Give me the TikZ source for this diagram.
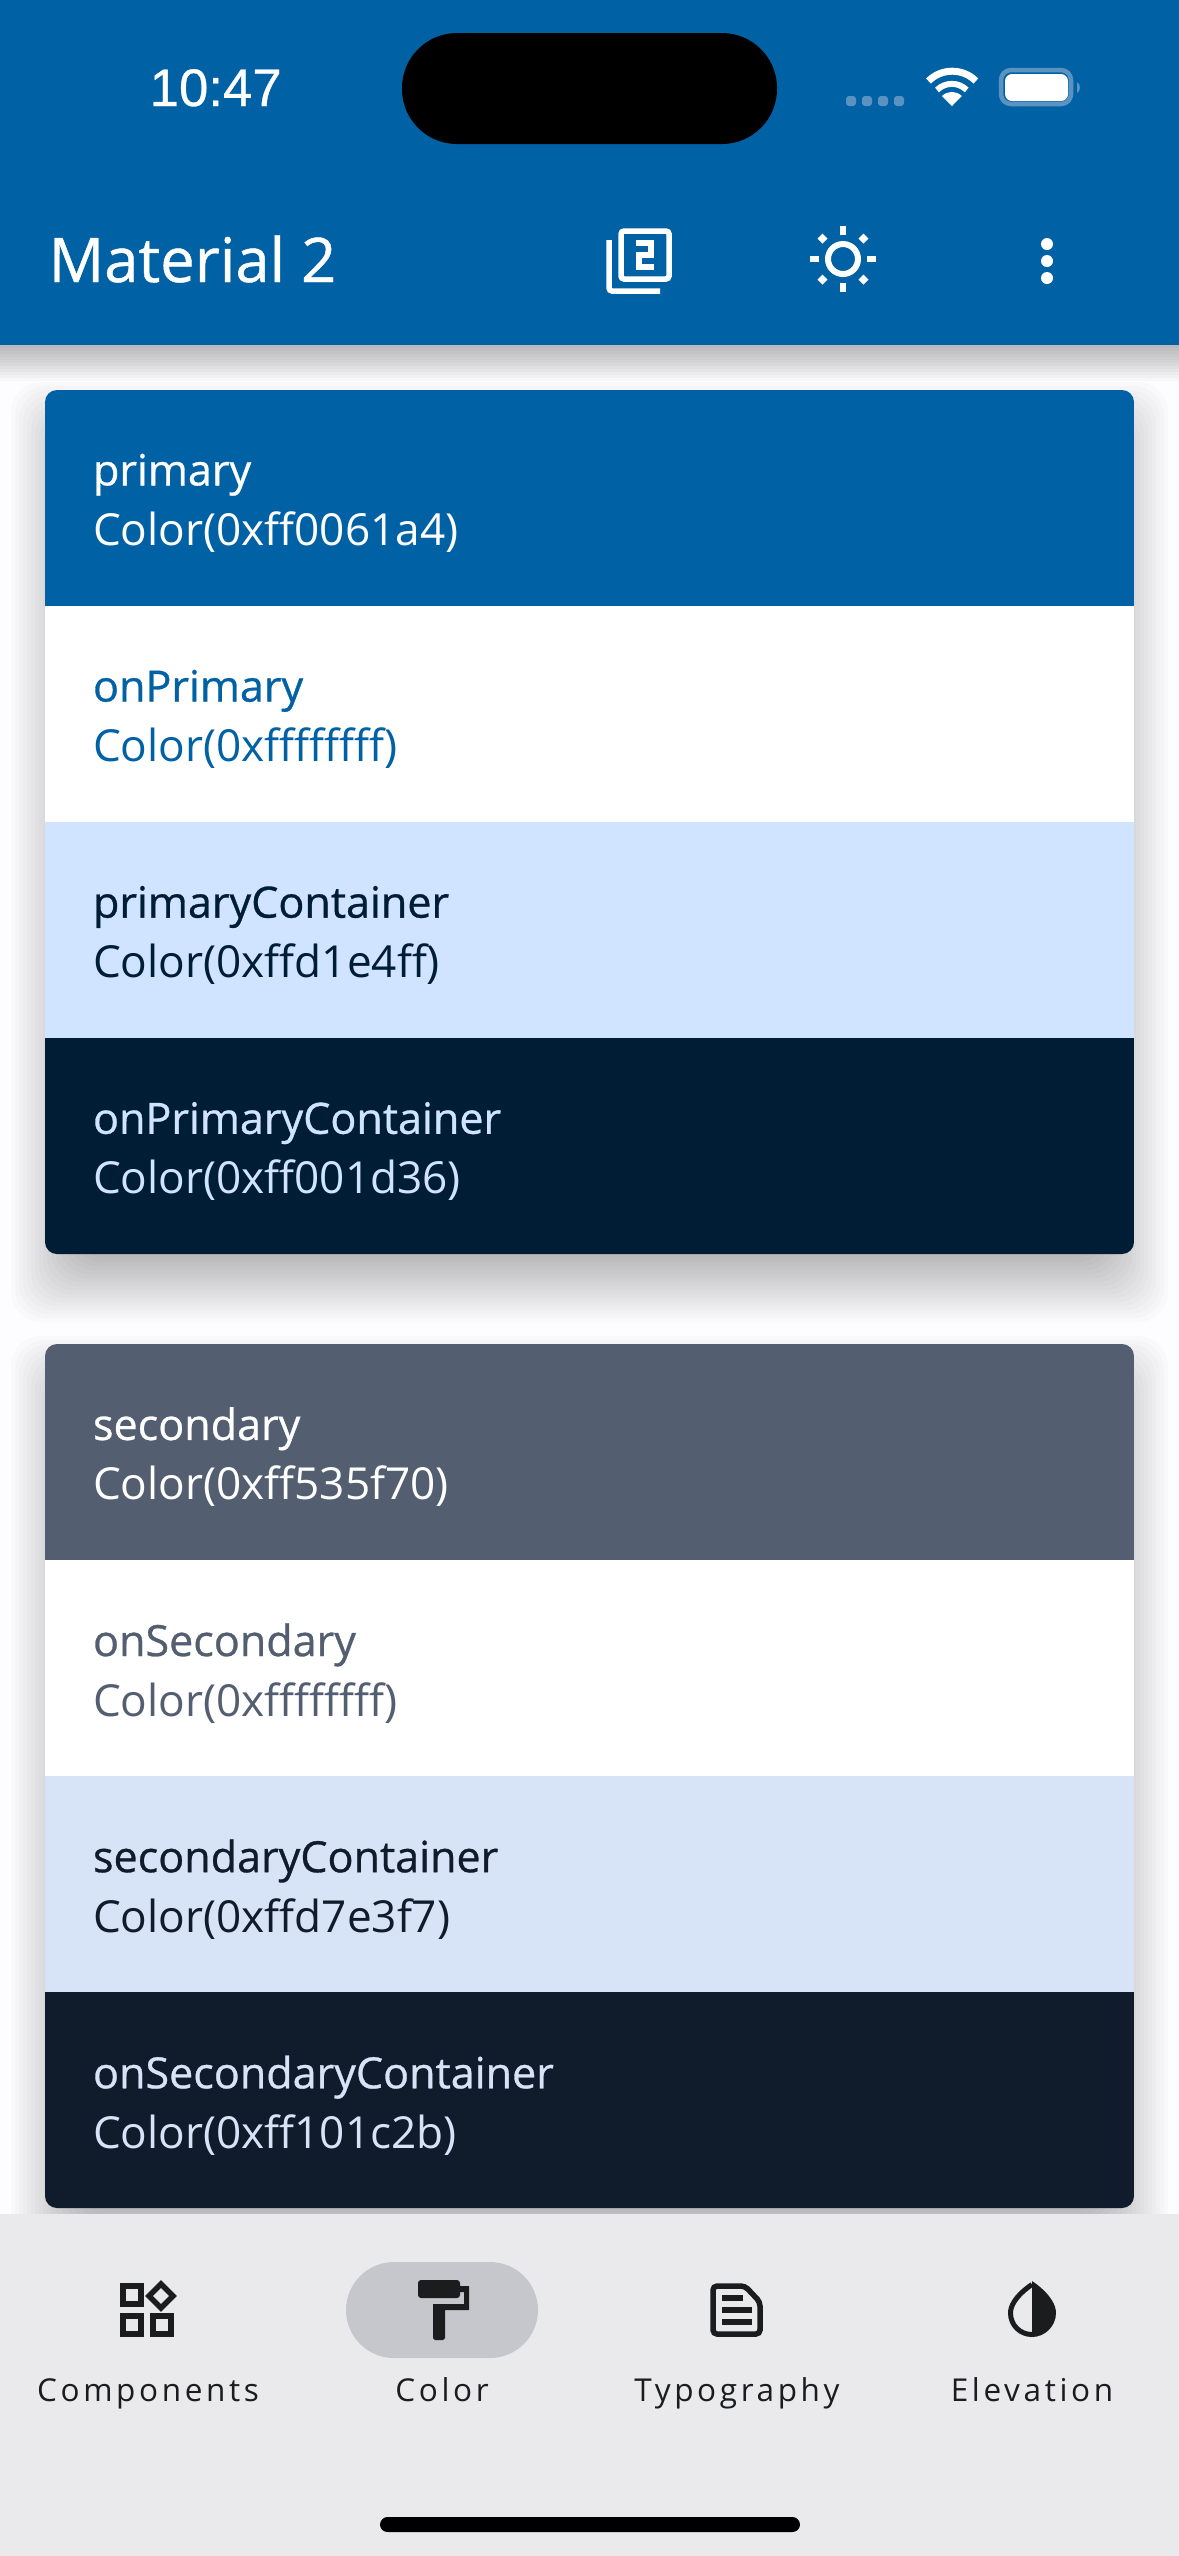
\documentclass[tikz,border=0pt]{standalone}
\usepackage{fontspec}
\setmainfont{Open Sans}
\newfontfamily\medfont[FakeBold=0.7]{Open Sans}
\newfontfamily\statfont[FakeBold=0.6]{Liberation Sans}
\newfontfamily\navfont[LetterSpace=11.5]{Open Sans}
\usetikzlibrary{positioning}
\definecolor{mprimary}{HTML}{0061A4}
\definecolor{monprimc}{HTML}{001D36}
\definecolor{mprimc}{HTML}{D1E4FF}
\definecolor{msecond}{HTML}{535F70}
\definecolor{msecc}{HTML}{D7E3F7}
\definecolor{monsecc}{HTML}{101C2B}
\definecolor{mpage}{HTML}{FDFCFF}
\definecolor{mnavbar}{HTML}{EAEAED}
\definecolor{mpill}{HTML}{C6C7CD}
\definecolor{micon}{HTML}{1A1C1E}
\definecolor{mfaint}{HTML}{5A92C2}
\tikzset{
  cardrow/.style={anchor=north west, minimum width=10.89cm, minimum height=2.16cm,
                  text width=10.89cm, align=left, inner xsep=0pt, inner ysep=0pt, outer sep=0pt},
  rowtext/.style={cardrow, text width=9.93cm, xshift=0.48cm, yshift=-0.05cm, minimum width=9.93cm,
                  font=\fontsize{12.55pt}{17.07pt}\selectfont},
  navlabel/.style={anchor=base, font=\navfont\fontsize{8.96pt}{11pt}\selectfont, text=micon, inner sep=0pt},
  iconline/.style={draw=micon, line width=0.055cm, fill=none},
  barline/.style={draw=white, line width=0.055cm, fill=none},
  cardshadow/.style={black, opacity=0.016, rounded corners=0.3cm},
}
\newcommand{\rowlabel}[2]{{\medfont\fontsize{12.25pt}{17.07pt}\selectfont #1}\\#2}
\begin{document}
\begin{tikzpicture}[x=0.01cm, y=-0.01cm]
  \useasboundingbox (0, 0) rectangle (1179, 2556);
  \fill[mpage] (0, 0) rectangle (1179, 2556);

  %% card shadows
  \foreach \g in {4,8,...,68} {
    \fill[cardshadow] (79-\g, 450-\g) rectangle (1100+\g, 1254+\g);
    \fill[cardshadow] (79-\g, 1404-\g) rectangle (1100+\g, 2208+\g);
  }

  %% app bar
  \foreach \g in {3,6,...,36} {
    \fill[black, opacity=0.022] (-5, 345) rectangle (1184, 345+\g);
  }
  \fill[mprimary] (0, 0) rectangle (1179, 345);
  \node[anchor=base west, font=\statfont\fontsize{15pt}{17pt}\selectfont, text=white, inner sep=0pt] (time) at (149, 106) {10:47};
  \fill[black, rounded corners=0.55cm] (402, 33) rectangle (777, 144);
  \fill[mfaint, rounded corners=0.03cm] (846, 96) rectangle (856, 106);
  \fill[mfaint, rounded corners=0.03cm] (862, 96) rectangle (872, 106);
  \fill[mfaint, rounded corners=0.03cm] (878, 96) rectangle (888, 106);
  \fill[mfaint, rounded corners=0.03cm] (894, 96) rectangle (904, 106);
  %% wifi
  \fill[white] (952, 106) -- (942, 96) arc[start angle=225, end angle=315, radius=14] -- cycle;
  \draw[white, line width=0.06cm] (937, 90) arc[start angle=225, end angle=315, radius=21];
  \draw[white, line width=0.07cm] (928.5, 81) arc[start angle=225, end angle=315, radius=33.5];
  %% battery
  \draw[mfaint, line width=0.045cm, rounded corners=0.1cm] (1001, 70) rectangle (1071, 104);
  \fill[white, rounded corners=0.07cm] (1005, 74) rectangle (1068, 101);
  \fill[mfaint] (1077, 82) .. controls (1081, 84) and (1081, 91) .. (1077, 93) -- cycle;

  \node[anchor=base west, font=\medfont\fontsize{17.5pt}{20pt}\selectfont, text=white, inner sep=0pt] (title) at (48, 282) {Material 2};
  %% layers icon
  \draw[barline, rounded corners=0.03cm] (621, 231) rectangle (669, 279);
  \draw[barline, rounded corners=0.03cm] (609, 240) -- (609, 291) -- (660, 291);
  \draw[barline, line width=0.06cm] (636, 243) -- (651, 243) -- (651, 255) -- (639, 255) -- (639, 267) -- (654, 267);
  %% sun icon
  \draw[white, line width=0.06cm] (843, 259) circle[radius=15];
  \fill[white] (840, 226) rectangle (846, 235);
  \fill[white] (840, 283) rectangle (846, 292);
  \fill[white] (810, 256) rectangle (819, 262);
  \fill[white] (867, 256) rectangle (876, 262);
  \fill[white] (822.5, 233.5) -- (827.5, 238.5) -- (822.5, 243.5) -- (817.5, 238.5) -- cycle;
  \fill[white] (863.5, 233.5) -- (868.5, 238.5) -- (863.5, 243.5) -- (858.5, 238.5) -- cycle;
  \fill[white] (822.5, 274.5) -- (827.5, 279.5) -- (822.5, 284.5) -- (817.5, 279.5) -- cycle;
  \fill[white] (863.5, 274.5) -- (868.5, 279.5) -- (863.5, 284.5) -- (858.5, 279.5) -- cycle;
  %% menu dots
  \fill[white] (1047, 244) circle[radius=6];
  \fill[white] (1047, 261) circle[radius=6];
  \fill[white] (1047, 278) circle[radius=6];

  %% first card
  \begin{scope}
    \clip[rounded corners=0.12cm] (45, 390) rectangle (1134, 1254);
    \node[cardrow, fill=mprimary] (primary) at (45, 390) {};
    \node[cardrow, fill=white, below=0pt of primary.south west, anchor=north west] (onprimary) {};
    \node[cardrow, fill=mprimc, below=0pt of onprimary.south west, anchor=north west] (primc) {};
    \node[cardrow, fill=monprimc, below=0pt of primc.south west, anchor=north west] (onprimc) {};
  \end{scope}
  \node[rowtext, text=white] (tprimary) at (primary.north west) {\rowlabel{primary}{Color(0xff0061a4)}};
  \node[rowtext, text=mprimary] (tonprimary) at (onprimary.north west) {\rowlabel{onPrimary}{Color(0xffffffff)}};
  \node[rowtext, text=monprimc] (tprimc) at (primc.north west) {\rowlabel{primaryContainer}{Color(0xffd1e4ff)}};
  \node[rowtext, text=mprimc] (tonprimc) at (onprimc.north west) {\rowlabel{onPrimaryContainer}{Color(0xff001d36)}};

  %% second card
  \begin{scope}
    \clip[rounded corners=0.12cm] (45, 1344) rectangle (1134, 2208);
    \node[cardrow, fill=msecond] (second) at (45, 1344) {};
    \node[cardrow, fill=white, below=0pt of second.south west, anchor=north west] (onsecond) {};
    \node[cardrow, fill=msecc, below=0pt of onsecond.south west, anchor=north west] (secc) {};
    \node[cardrow, fill=monsecc, below=0pt of secc.south west, anchor=north west] (onsecc) {};
  \end{scope}
  \node[rowtext, text=white] (tsecond) at (second.north west) {\rowlabel{secondary}{Color(0xff535f70)}};
  \node[rowtext, text=msecond] (tonsecond) at (onsecond.north west) {\rowlabel{onSecondary}{Color(0xffffffff)}};
  \node[rowtext, text=monsecc] (tsecc) at (secc.north west) {\rowlabel{secondaryContainer}{Color(0xffd7e3f7)}};
  \node[rowtext, text=msecc] (tonsecc) at (onsecc.north west) {\rowlabel{onSecondaryContainer}{Color(0xff101c2b)}};

  %% navigation bar
  \fill[mnavbar] (0, 2214) rectangle (1179, 2556);
  \fill[mpill, rounded corners=0.48cm] (346, 2262) rectangle (538, 2358);
  %% components icon
  \draw[iconline] (123, 2286) rectangle (141, 2304);
  \draw[iconline] (123, 2316) rectangle (141, 2334);
  \draw[iconline] (153, 2316) rectangle (171, 2334);
  \draw[iconline] (161, 2284) -- (173, 2296) -- (161, 2308) -- (149, 2296) -- cycle;
  %% roller icon
  \fill[micon, rounded corners=0.03cm] (418, 2280) rectangle (460, 2298);
  \fill[micon] (460, 2286) -- (469, 2286) -- (469, 2310) -- (445, 2310) -- (445, 2338) -- (443, 2340) -- (435, 2340) -- (433, 2338) -- (433, 2304) -- (464, 2304) -- (464, 2292) -- (460, 2292) -- cycle;
  %% document icon
  \draw[iconline, rounded corners=0.04cm] (713, 2286) -- (745, 2286) -- (760, 2302) -- (760, 2334) -- (713, 2334) -- cycle;
  \fill[micon] (722, 2295) rectangle (743, 2301);
  \fill[micon] (722, 2307) rectangle (752, 2313);
  \fill[micon] (722, 2319) rectangle (752, 2325);
  %% drop icon
  \fill[micon] (1032, 2281) .. controls (1032, 2281) and (1056, 2296) .. (1056, 2313) .. controls (1056, 2326) and (1045, 2337) .. (1032, 2337) -- cycle;
  \draw[micon, line width=0.05cm] (1032, 2284.5) .. controls (1032, 2284.5) and (1010.5, 2298) .. (1010.5, 2313) .. controls (1010.5, 2325) and (1020, 2334.5) .. (1032, 2334.5);

  \node[navlabel] (components) at (148, 2401) {Components};
  \node[navlabel] (color) at (442, 2401) {Color};
  \node[navlabel] (typography) at (737, 2401) {Typography};
  \node[navlabel] (elevation) at (1032, 2401) {Elevation};
  \fill[black, rounded corners=0.075cm] (380, 2517) rectangle (800, 2532);
\end{tikzpicture}
\end{document}
